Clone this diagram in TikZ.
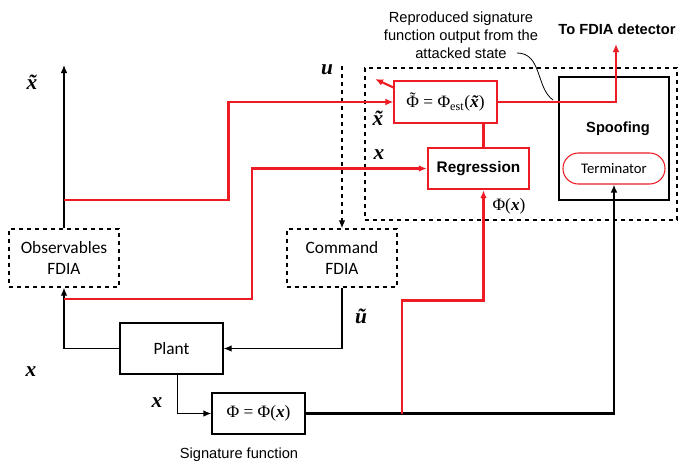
\documentclass[tikz,border=0pt]{standalone}
\usepackage{fontspec}
\setmainfont{Liberation Sans}
\newfontfamily\calib{Carlito}
\newfontfamily\tms{Liberation Serif}
\usetikzlibrary{arrows.meta,calc,positioning}
\definecolor{attred}{RGB}{237,28,36}
\newcommand{\vx}{\textbf{\textit{x}}}
\newcommand{\tld}[1]{\accent"02DC #1}
\tikzset{
    >={Latex[length=6pt,width=5pt]},
    x=0.75pt, y=-0.75pt,
    conn/.style ={line width=1pt},
    redline/.style ={draw=attred, line width=1.6pt},
    block/.style ={draw, line width=1pt, inner sep=0pt, align=center,
        font=\calib\fontsize{13}{16}\selectfont},
    fdia/.style ={block, dashed},
    redbox/.style ={block, draw=attred, line width=0.8pt},
    mlbl/.style ={inner sep=0pt, font=\tms\fontsize{16}{18}\selectfont\bfseries\itshape},
    txt/.style ={inner sep=0pt, align=center, font=\fontsize{11}{13.5}\selectfont}
}
\begin{document}
\begin{tikzpicture}
    \useasboundingbox (0,0) rectangle (694,462);
    % blocks
    \node[fdia, minimum width=82.5pt, minimum height=43.5pt] (obs) at (64,258) {Observables\\FDIA};
    \node[fdia, minimum width=82.5pt, minimum height=43.5pt] (cmd) at (342,258) {Command\\FDIA};
    \node[block, minimum width=77.25pt, minimum height=38.25pt] (plant) at (171.5,348.5) {Plant};
    \node[block, minimum width=69.75pt, minimum height=30.75pt, font=\tms\fontsize{13}{16}\selectfont] (sig) at (258.5,413.5) {Φ = Φ(\vx)};
    \node[txt] (sigl) at (239,455) {Signature function};

    % attack block
    \node[draw, dashed, line width=0.8pt, minimum width=234pt, minimum height=114pt] (att) at (521,144) {};
    \node[block, line width=1.8pt, draw=attred, minimum width=75.75pt, minimum height=30.75pt,
          font=\bfseries\fontsize{11.5}{13}\selectfont] (reg) at (478.5,168.5) {Regression};
    \node[redbox, minimum width=77.25pt, minimum height=31.5pt, font=\tms\fontsize{13}{16}\selectfont]
          (est) at (445.5,102) {\tld{Φ} = Φ\textsubscript{est}(\textbf{\textit{\tld{x}}})};
    \node[block, minimum width=82.5pt, minimum height=92.25pt] (spoof) at (614,138.5) {};
    \node[txt, font=\bfseries\fontsize{11}{13}\selectfont] (spoofl) at (618,129) {Spoofing};
    \node[redbox, rounded corners=11.5pt, minimum width=76.5pt, minimum height=23.25pt,
          font=\calib\fontsize{11}{13}\selectfont] (term) at (614,168.5) {Terminator};

    % texts
    \node[txt, font=\bfseries\fontsize{11}{13}\selectfont] (det) at (617,29) {To FDIA detector};
    \node[txt] (note) at (461,35) {Reproduced signature\\function output from the\\attacked state};
    \node[mlbl] (l1) at (32,82) {\tld{x}};
    \node[mlbl] (l2) at (327,70) {u};
    \node[mlbl] (l3) at (378,118) {\tld{x}};
    \node[mlbl] (l4) at (379,155) {x};
    \node[mlbl] (l5) at (361,316) {\tld{u}};
    \node[mlbl] (l6) at (31,372) {x};
    \node[mlbl] (l7) at (157,403) {x};
    \node[inner sep=0pt, font=\tms\fontsize{13}{16}\selectfont] (l8) at (509,206) {Φ(\vx)};

    % coordinates
    \coordinate (xtop) at (obs.north |- 0,65);
    \coordinate (utop) at (cmd.north |- 0,66);
    \coordinate (tap) at (402,413.5);
    \coordinate (xtap1) at (obs.south |- 0,299);
    \coordinate (xtap2) at (obs.north |- 0,200);
    \coordinate (detend) at (616,44);

    % black connectors
    \draw[conn,->] (plant.west) -| (obs.south);
    \draw[conn,->] (obs.north) -- (xtop);
    \draw[conn,dashed,->] (utop) -- (cmd.north);
    \draw[conn,->] (cmd.south) |- (plant.east);
    \draw[conn,->] ($(plant.south)+(6,0)$) |- (sig.west);
    \draw[line width=2.2pt,->] (sig.east) -| (term.south);
    \draw[line width=0.6pt] (517,53) .. controls (542,53) and (536,88) .. (553,100);

    % red connectors
    \draw[redline,->] (tap) -- (402,300.5) -| ($(reg.south)+(5,0)$);
    \draw[redline,->] (xtap1) -| (252,168.5) -- (reg.west);
    \draw[redline,->] (xtap2) -| (228.5,102) -- (est.west);
    \draw[redline] ($(reg.north)+(5,0)$) -- ($(est.south)+(38,0)$);
    \draw[redline,->] (est.east) -| (detend);
    \draw[redline,->] ($(est.north west)+(0,7)$) -- (375,79);
\end{tikzpicture}
\end{document}
